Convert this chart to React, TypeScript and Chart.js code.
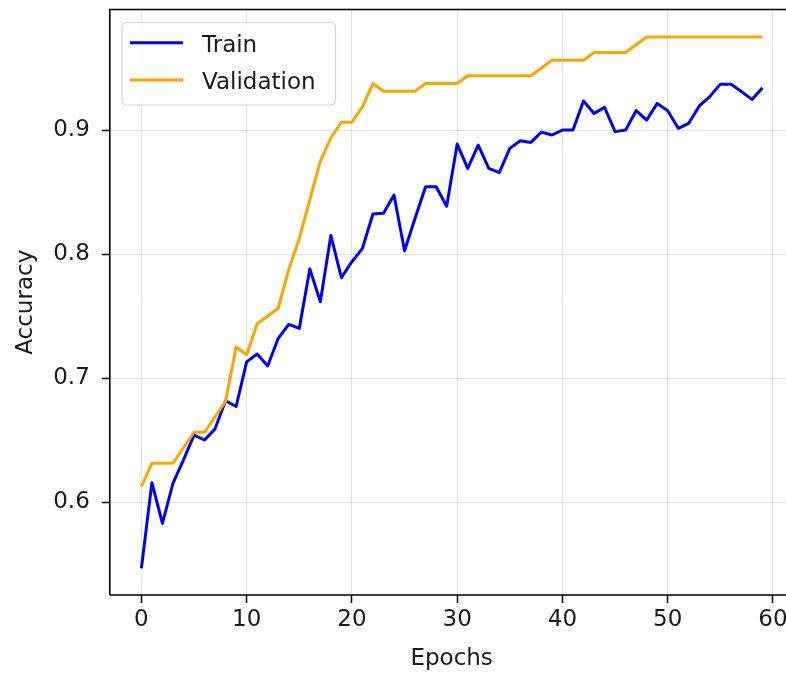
import { useEffect, useRef } from "react";
import { Chart, registerables } from "chart.js";

Chart.register(...registerables);

const epochs = [
  0, 1, 2, 3, 4, 5, 6, 7, 8, 9, 10, 11, 12, 13, 14, 15, 16, 17, 18, 19,
  20, 21, 22, 23, 24, 25, 26, 27, 28, 29, 30, 31, 32, 33, 34, 35, 36, 37, 38, 39,
  40, 41, 42, 43, 44, 45, 46, 47, 48, 49, 50, 51, 52, 53, 54, 55, 56, 57, 58, 59,
];

const trainAcc = [
  0.5465, 0.6156, 0.5828, 0.6151, 0.634, 0.654, 0.65, 0.659, 0.6817, 0.677,
  0.713, 0.7194, 0.7097, 0.732, 0.7433, 0.74, 0.788, 0.7615, 0.815, 0.781,
  0.7938, 0.8046, 0.8323, 0.8328, 0.8476, 0.8027, 0.8288, 0.8543, 0.8543, 0.8385,
  0.8887, 0.869, 0.8879, 0.869, 0.8656, 0.8852, 0.8914, 0.89, 0.8983, 0.896,
  0.9, 0.9, 0.9234, 0.9134, 0.9183, 0.8987, 0.9, 0.9156, 0.908, 0.9215,
  0.9156, 0.9014, 0.9054, 0.9194, 0.927, 0.937, 0.937, 0.931, 0.9247, 0.934,
];

const valAcc = [
  0.6125, 0.63125, 0.63125, 0.63125, 0.64375, 0.65625, 0.65625, 0.66875, 0.68125, 0.725,
  0.71875, 0.74375, 0.75, 0.75625, 0.7875, 0.8125, 0.84375, 0.875, 0.89375, 0.90625,
  0.90625, 0.91875, 0.9375, 0.93125, 0.93125, 0.93125, 0.93125, 0.9375, 0.9375, 0.9375,
  0.9375, 0.94375, 0.94375, 0.94375, 0.94375, 0.94375, 0.94375, 0.94375, 0.95, 0.95625,
  0.95625, 0.95625, 0.95625, 0.9625, 0.9625, 0.9625, 0.9625, 0.96875, 0.975, 0.975,
  0.975, 0.975, 0.975, 0.975, 0.975, 0.975, 0.975, 0.975, 0.975, 0.975,
];

const seriesNames = ["Train", "Validation"];
const seriesColors = ["#0000ff", "#ffa500"];
const xTickValues = [0, 10, 20, 30, 40, 50, 60];
const xTickLabels = ["0", "10", "20", "30", "40", "50", "60"];
const yTickValues = [0.6, 0.7, 0.8, 0.9];
const yTickLabels = ["0.6", "0.7", "0.8", "0.9"];
const xTitle = "Epochs";
const yTitle = "Accuracy";

const FONT = "'DejaVu Sans', 'Liberation Sans', sans-serif";
const FS = 23;

const spinesAndLegend = {
  id: "spinesAndLegend",
  afterDraw(chart: any) {
    const { ctx, chartArea } = chart;
    const { left, top, bottom } = chartArea;
    ctx.save();
    ctx.strokeStyle = "#000";
    ctx.lineWidth = 1.6;
    ctx.beginPath();
    ctx.moveTo(left, bottom);
    ctx.lineTo(left, top);
    ctx.lineTo(chart.width, top);
    ctx.moveTo(left, bottom);
    ctx.lineTo(chart.width, bottom);
    ctx.stroke();

    const bx = 122, by = 22.5, bw = 213.5, bh = 82.5, r = 5;
    ctx.beginPath();
    ctx.moveTo(bx + r, by);
    ctx.lineTo(bx + bw - r, by);
    ctx.quadraticCurveTo(bx + bw, by, bx + bw, by + r);
    ctx.lineTo(bx + bw, by + bh - r);
    ctx.quadraticCurveTo(bx + bw, by + bh, bx + bw - r, by + bh);
    ctx.lineTo(bx + r, by + bh);
    ctx.quadraticCurveTo(bx, by + bh, bx, by + bh - r);
    ctx.lineTo(bx, by + r);
    ctx.quadraticCurveTo(bx, by, bx + r, by);
    ctx.closePath();
    ctx.fillStyle = "rgba(255,255,255,0.8)";
    ctx.fill();
    ctx.strokeStyle = "#d4d4d4";
    ctx.lineWidth = 1.2;
    ctx.stroke();

    const rows = [42.7, 80];
    const baselines = [52.3, 88.8];
    seriesNames.forEach((name, i) => {
      ctx.strokeStyle = seriesColors[i];
      ctx.lineWidth = 3;
      ctx.lineCap = "butt";
      ctx.beginPath();
      ctx.moveTo(130, rows[i]);
      ctx.lineTo(183, rows[i]);
      ctx.stroke();
      ctx.fillStyle = "#1a1a1a";
      ctx.font = `${FS}px ${FONT}`;
      ctx.textAlign = "left";
      ctx.textBaseline = "alphabetic";
      ctx.fillText(name, 202, baselines[i]);
    });
    ctx.restore();
  },
};

export default function App() {
  const ref = useRef<HTMLCanvasElement | null>(null);

  useEffect(() => {
    document.body.style.margin = "0";
    document.body.style.overflow = "hidden";
    const canvas = ref.current;
    if (!canvas) return;
    const chart = new Chart(canvas, {
      type: "line",
      data: {
        datasets: [
          {
            label: seriesNames[0],
            data: epochs.map((e, i) => ({ x: e, y: trainAcc[i] })),
            borderColor: seriesColors[0],
            backgroundColor: seriesColors[0],
            borderWidth: 3,
            pointRadius: 0,
            tension: 0,
            borderJoinStyle: "round",
            order: 2,
          },
          {
            label: seriesNames[1],
            data: epochs.map((e, i) => ({ x: e, y: valAcc[i] })),
            borderColor: seriesColors[1],
            backgroundColor: seriesColors[1],
            borderWidth: 3,
            pointRadius: 0,
            tension: 0,
            borderJoinStyle: "round",
            order: 1,
          },
        ],
      },
      options: {
        responsive: false,
        animation: false,
        devicePixelRatio: 1,
        layout: { padding: { left: 0, top: 9.5, right: 6.5, bottom: 0 } },
        plugins: {
          legend: { display: false },
          tooltip: { enabled: false },
        },
        scales: {
          x: {
            type: "linear",
            min: -3.0,
            max: 61.95,
            afterFit: (s: any) => {
              s.height = 80;
              s.paddingLeft = 0;
              s.paddingRight = 0;
            },
            afterBuildTicks: (s: any) => {
              s.ticks = xTickValues.map((v) => ({ value: v }));
            },
            border: { display: false },
            grid: {
              color: "rgba(176,176,176,0.35)",
              lineWidth: 1,
              drawTicks: true,
              tickLength: 8,
              tickColor: "#000",
              tickWidth: 1.5,
            },
            ticks: {
              padding: 3,
              color: "#1a1a1a",
              font: { family: FONT, size: FS },
              maxRotation: 0,
              autoSkip: false,
              callback: (v: any) => {
                const i = xTickValues.indexOf(Number(v));
                return i >= 0 ? xTickLabels[i] : "";
              },
            },
            title: {
              display: true,
              text: xTitle,
              color: "#1a1a1a",
              font: { family: FONT, size: FS },
              padding: { top: 0, bottom: 2.5 },
            },
          },
          y: {
            type: "linear",
            min: 0.525,
            max: 0.9972,
            afterFit: (s: any) => {
              s.width = 109.8;
              s.paddingTop = 0;
              s.paddingBottom = 0;
            },
            afterBuildTicks: (s: any) => {
              s.ticks = yTickValues.map((v) => ({ value: v }));
            },
            border: { display: false },
            grid: {
              color: "rgba(176,176,176,0.35)",
              lineWidth: 1,
              drawTicks: true,
              tickLength: 8,
              tickColor: "#000",
              tickWidth: 1.5,
            },
            ticks: {
              padding: 12,
              color: "#1a1a1a",
              font: { family: FONT, size: FS },
              autoSkip: false,
              callback: (v: any) => {
                const i = yTickValues.findIndex((t) => Math.abs(t - Number(v)) < 1e-9);
                return i >= 0 ? yTickLabels[i] : "";
              },
            },
            title: {
              display: true,
              text: yTitle,
              color: "#1a1a1a",
              font: { family: FONT, size: FS },
              padding: { top: 12.6, bottom: 0 },
            },
          },
        },
      },
      plugins: [spinesAndLegend],
    });
    return () => chart.destroy();
  }, []);

  return (
    <div style={{ width: 786, height: 675, overflow: "hidden", position: "relative" }}>
      <canvas ref={ref} width={800} height={675} style={{ display: "block", width: 800, height: 675 }} />
    </div>
  );
}
